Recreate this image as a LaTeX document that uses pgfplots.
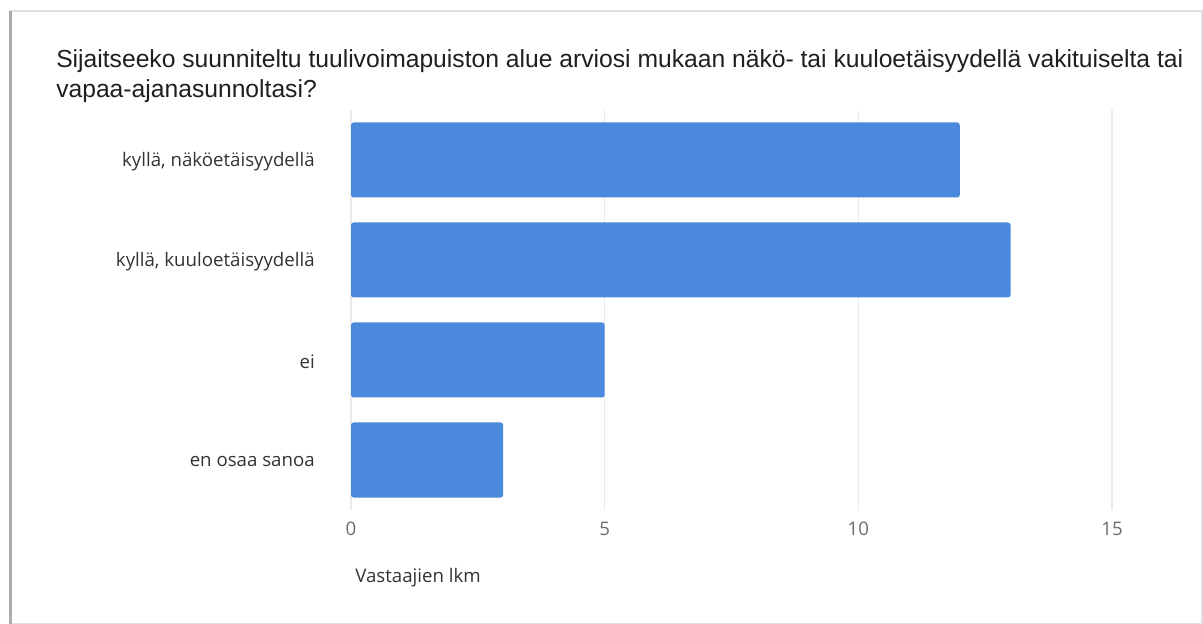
\documentclass[border=0pt]{standalone}
\usepackage{pgfplots}
\pgfplotsset{compat=1.18}
\usepackage{fontspec}
\setmainfont{Open Sans}
\newfontfamily\titlefont{Liberation Sans}
\definecolor{barblue}{HTML}{4A89DC}
\definecolor{gridgray}{HTML}{EAEAEA}
\definecolor{ticktext}{HTML}{6E6E6E}
\definecolor{labtext}{HTML}{333333}
\begin{document}
\begin{tikzpicture}
\path[use as bounding box] (0,0) rectangle (902.25pt,468pt);
\fill[white] (0,0) rectangle (902.25pt,468pt);
\draw[gray!25, line width=1pt] (7.5pt,0) rectangle (901.5pt,459.75pt);
\draw[gray!65, line width=2pt] (8pt,0) -- (8pt,459.75pt);
\node[anchor=base west, inner sep=0, font=\titlefont\fontsize{18.5pt}{20pt}\selectfont, text=black!88] at (42pt,417pt) {Sijaitseeko suunniteltu tuulivoimapuiston alue arviosi mukaan näkö- tai kuuloetäisyydellä vakituiselta tai};
\node[anchor=base west, inner sep=0, font=\titlefont\fontsize{18.5pt}{20pt}\selectfont, text=black!88] at (42pt,395pt) {vapaa-ajanasunnoltasi?};
\begin{axis}[
  at={(263.25pt,85.5pt)}, anchor=south west,
  scale only axis, width=570.75pt, height=300pt,
  xbar, bar width=56.25pt,
  xmin=0, xmax=15, ymin=-0.5, ymax=3.5,
  y dir=reverse,
  axis line style={draw=none},
  xtick={0,5,10,15},
  ytick={0,1,2,3},
  yticklabels={{kyllä, näköetäisyydellä},{kyllä, kuuloetäisyydellä},{ei},{en osaa sanoa}},
  major tick length=0pt,
  xmajorgrids, grid style={gridgray, line width=0.8pt},
  yticklabel style={font=\fontsize{14pt}{16pt}\selectfont, text=labtext, anchor=east, inner sep=0pt, xshift=-27pt, yshift=-1.5pt},
  xticklabel style={font=\fontsize{14pt}{16pt}\selectfont, text=ticktext, inner sep=0pt, yshift=-9pt},
  /pgf/number format/assume math mode=true,
  xlabel={Vastaajien lkm},
  xlabel style={font=\fontsize{14pt}{16pt}\selectfont, text=labtext, anchor=west, inner sep=0pt, at={(0,0)}, yshift=-51pt, xshift=3pt},
  clip=false,
]
\addplot[fill=barblue, draw=none, rounded corners=2pt] coordinates {(12,0) (13,1) (5,2) (3,3)};
\end{axis}
\end{tikzpicture}
\end{document}
